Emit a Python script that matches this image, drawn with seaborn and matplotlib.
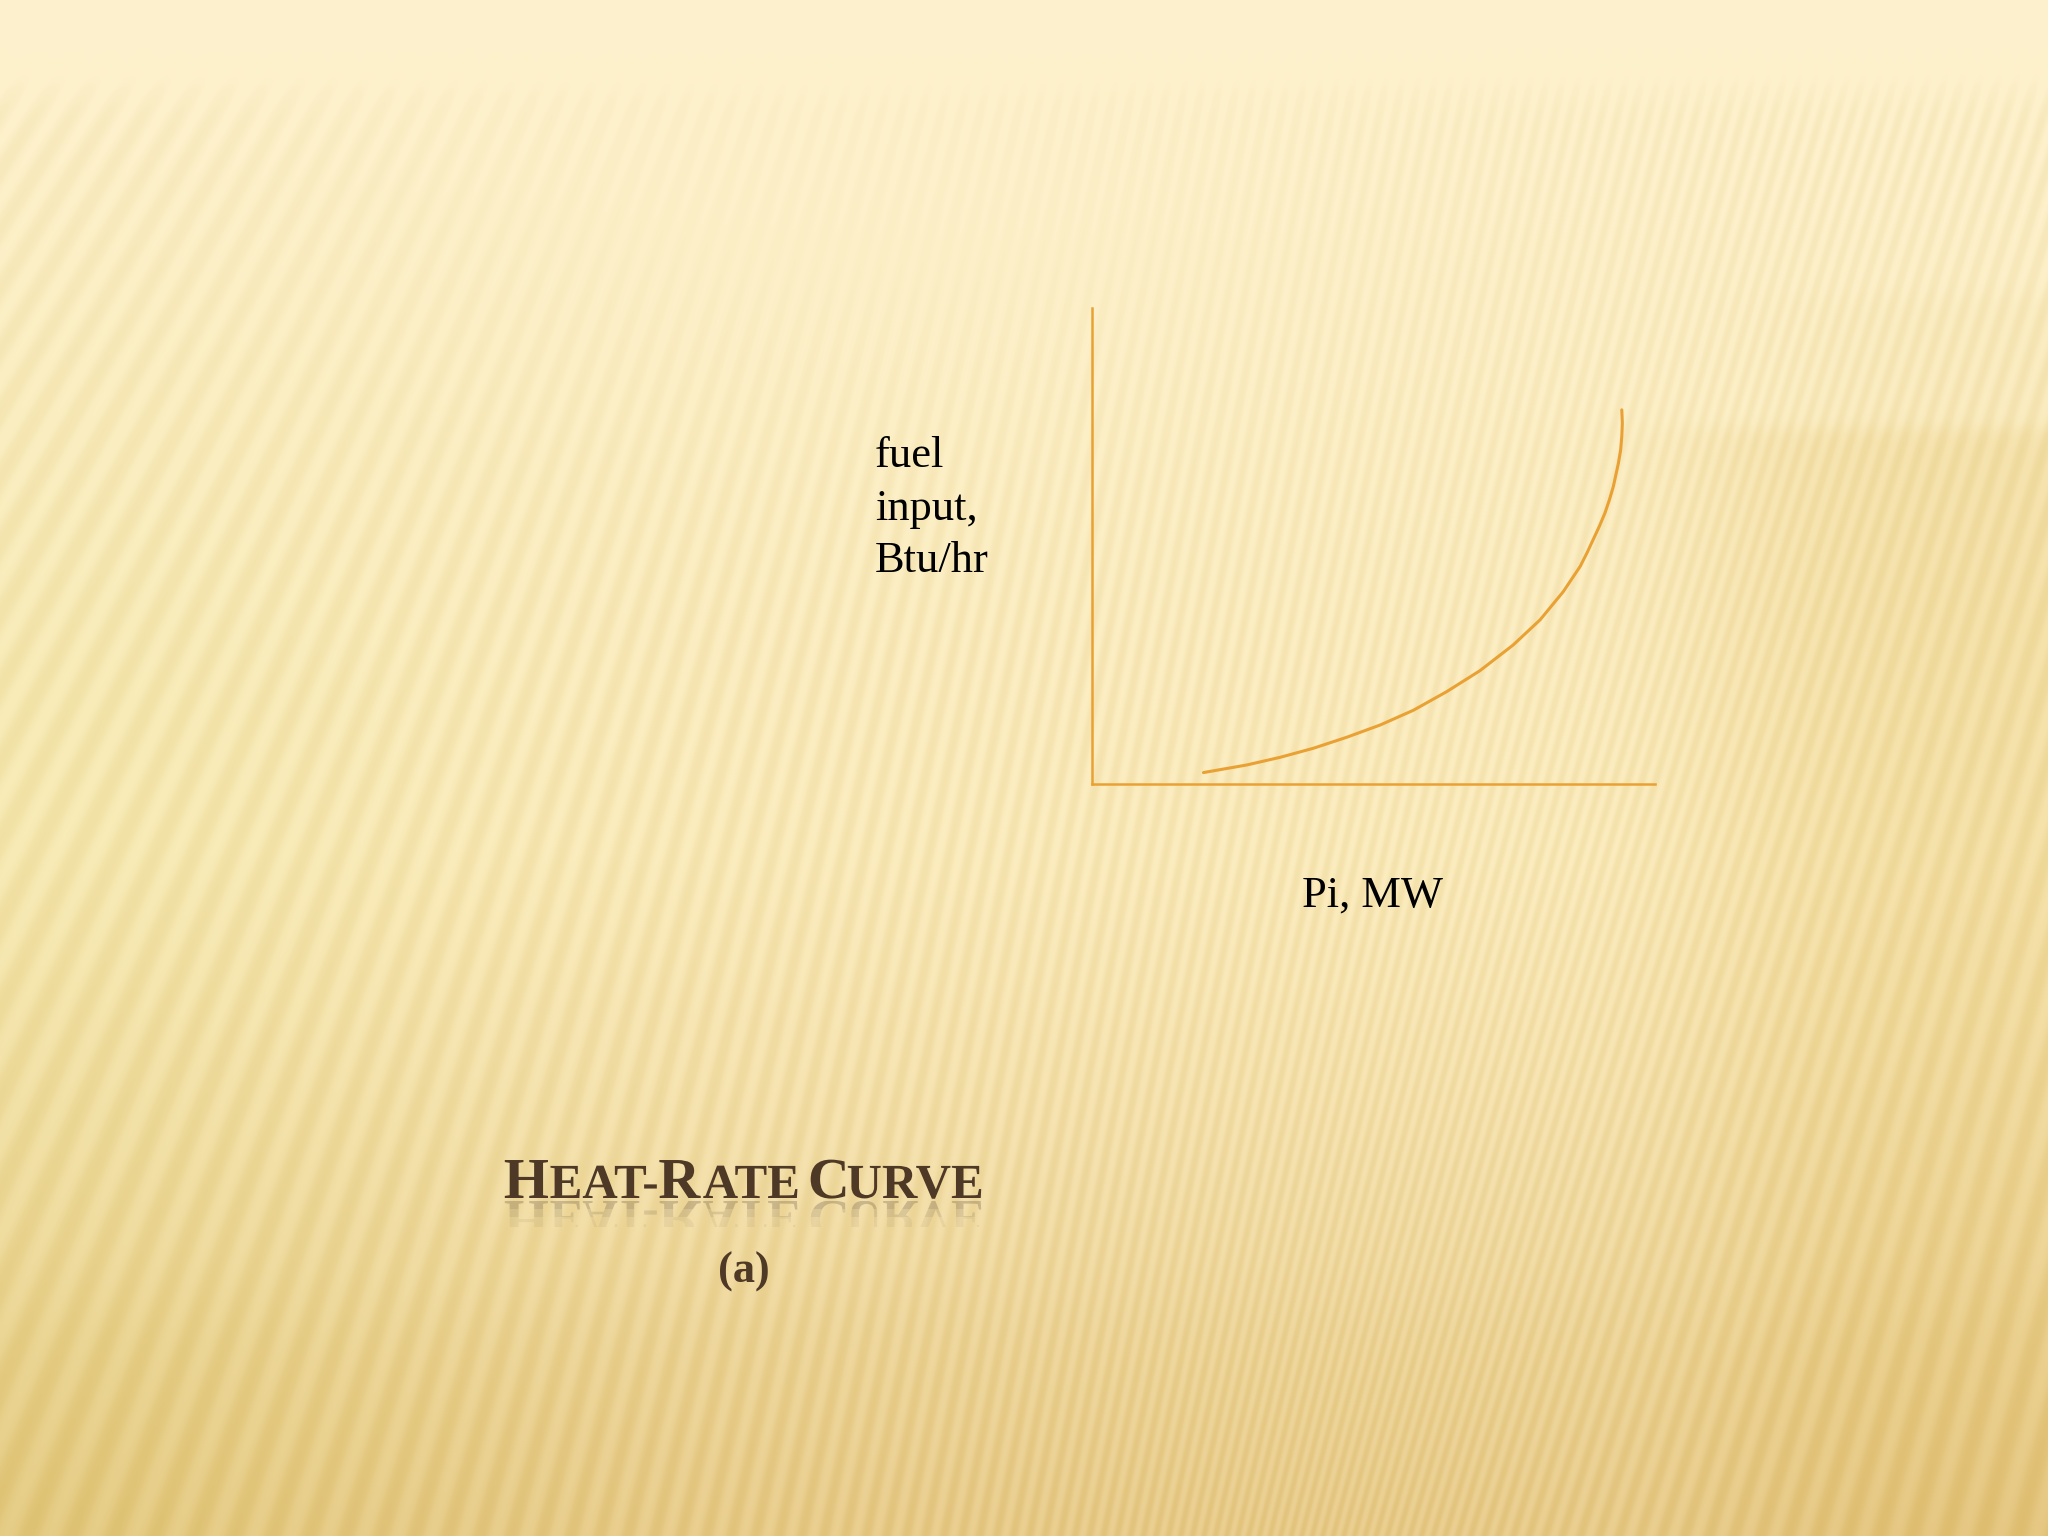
import numpy as np
import pandas as pd
import matplotlib
matplotlib.use('Agg')
import matplotlib.pyplot as plt
import seaborn as sns
from matplotlib.textpath import TextPath
from matplotlib.font_manager import FontProperties
from matplotlib.patches import PathPatch, Rectangle
from matplotlib.transforms import Affine2D

# curve (axis units 0..100)
power = [19.8, 27.5, 33.4, 39.3, 45.2, 51.2, 57.1, 63.0, 68.9, 74.8,
         79.6, 83.7, 86.7, 87.9, 89.0, 90.1, 91.1, 91.9, 92.6, 93.5,
         93.9, 94.1, 94.2, 94.1]
fuel = [2.4, 4.0, 5.6, 7.5, 9.8, 12.4, 15.5, 19.4, 23.8, 29.2,
        34.5, 40.4, 45.7, 48.5, 51.3, 54.1, 56.9, 59.7, 62.5, 67.4,
        70.2, 73.0, 75.8, 78.6]

y_label = 'fuel\ninput,\nBtu/hr'
x_label = 'Pi, MW'
title_parts = [('H', True), ('EAT-', False), ('R', True), ('ATE', False),
               (' ', False), ('C', True), ('URVE', False)]
subtitle = '(a)'

orange = '#E9A134'
brown = '#4E3826'

sns.set_theme(style='white')
plt.rcParams['font.family'] = ['Liberation Serif', 'DejaVu Serif']

W, H = 2048, 1536
fig = plt.figure(figsize=(20.48, 15.36), dpi=100)

                    ### background ###
yy, xx = np.mgrid[0:H, 0:W].astype(float)
t = yy / H
top = np.array([254, 242, 206.0])
mid = np.array([252, 237, 192.0])
bot = np.array([236, 210, 150.0])
k1 = np.clip(t / 0.55, 0, 1)[..., None]
k2 = np.clip((t - 0.55) / 0.45, 0, 1)[..., None] ** 1.1
bg = top * (1 - k1) + mid * k1
bg = bg * (1 - k2) + bot * k2
left = np.exp(-(xx / 500) ** 2) * np.clip((yy - 100) / 600, 0, 1)
bg = bg - left[..., None] * np.array([4, 2, 10])

# straight stripes x = c - y*lean(c), leaning "/" (strong at left, mild in the middle)
def lean(c):
    return 0.58 * np.exp(-(c / 900) ** 2) + 0.25 * np.exp(-((c - 2100) / 700) ** 2) + 0.06

c = xx.copy()
for _ in range(30):
    c = xx + yy * lean(c)
cgrid = np.linspace(0, 3200, 6401)
period = 16 + 20 * np.exp(-(cgrid / 700) ** 2) + 10 * np.clip((cgrid - 1900) / 500, 0, 1)
phi = np.concatenate([[0], np.cumsum(np.diff(cgrid) / period[1:])])
wave = np.cos(2 * np.pi * np.interp(c, cgrid, phi))
stripe = 0.5 + 0.5 * np.sign(wave) * np.abs(wave) ** 0.8
start = 1 / (1 + np.exp(-(yy - 92) / 10))
fade = 1 - 0.7 * np.exp(-((xx - 850) / 650) ** 2 - ((yy - 200) / 260) ** 2)
amp = start * fade * (0.85 + 0.3 * t)
bg = bg - (amp * stripe)[..., None] * np.array([7, 10, 18])

# darker area on the right: sharp top edge, soft left edge
def soft_box(x0, y0, sx, sy):
    return 1 / (1 + np.exp(-(xx - x0) / sx)) / (1 + np.exp(-(yy - y0) / sy))

box = soft_box(1700, 428, 45, 5) * (1 - 0.6 * np.clip((yy - 600) / 900, 0, 1))
bg = bg - box[..., None] * np.array([5, 9, 18])
bg = bg - soft_box(1800, 295, 40, 6)[..., None] * np.array([2, 3, 6])
band = 1 / (1 + np.exp(-(yy - 1310) / 25))
bg = bg - band[..., None] * np.array([2, 3, 5])
bg = np.clip(bg, 0, 255) / 255

ax_bg = fig.add_axes([0, 0, 1, 1])
ax_bg.imshow(bg, extent=[0, W, 0, H], origin='upper', aspect='auto', interpolation='bilinear')
ax_bg.set_xlim(0, W)
ax_bg.set_ylim(0, H)
ax_bg.axis('off')

                    ### title in small caps with a reflection ###
fp = FontProperties(family='Liberation Serif', weight='bold')
big, small = 58, 49
pieces = []
x = 0
for txt, is_big in title_parts:
    if txt == ' ':
        x += 0.22 * small
        continue
    p = TextPath((0, 0), txt, size=big if is_big else small, prop=fp)
    ext = p.get_extents()
    pieces.append((p, x - ext.x0))
    x += ext.width + 2.5
total = x - 2.5
x0 = 743 - total / 2
base = H - 1198
for p, dx in pieces:
    tp = p.transformed(Affine2D().translate(x0 + dx, base))
    ax_bg.add_patch(PathPatch(tp, fc=brown, ec='none', zorder=3))
    for lo, hi, a in [(0, 8, 0.30), (8, 16, 0.18), (16, 26, 0.08)]:
        rp = p.transformed(Affine2D().scale(1, -1).translate(x0 + dx, base - 3))
        patch = PathPatch(rp, fc='#6b5a48', ec='none', alpha=a, zorder=2)
        ax_bg.add_patch(patch)
        clip = Rectangle((0, base - 3 - hi), W, hi - lo, transform=ax_bg.transData)
        patch.set_clip_path(clip)

ax_bg.text(744, H - 1272, subtitle, ha='center', va='center', fontsize=32,
           fontweight='bold', color=brown)

                    ### chart ###
df = pd.DataFrame({'power': power, 'fuel': fuel})
ax = fig.add_axes([1092 / W, 1 - 784 / H, 563 / W, 476 / H])
ax.patch.set_alpha(0)
sns.lineplot(data=df, x='power', y='fuel', sort=False, estimator=None,
             color=orange, linewidth=2.2, ax=ax)
for ln in ax.lines:
    ln.set_solid_joinstyle('round')
ax.set_xlim(0, 100)
ax.set_ylim(0, 100)
ax.set_xticks([])
ax.set_yticks([])
ax.set_xlabel('')
ax.set_ylabel('')
for side in ['top', 'right']:
    ax.spines[side].set_visible(False)
for side in ['left', 'bottom']:
    ax.spines[side].set_color(orange)
    ax.spines[side].set_linewidth(1.8)

fig.text(875 / W, 1 - 572 / H, y_label, ha='left', va='baseline', fontsize=32,
         color='black', linespacing=1.40)
fig.text(1372 / W, 1 - 907 / H, x_label, ha='center', va='baseline', fontsize=32,
         color='black')

fig.savefig('out.png', dpi=100)
